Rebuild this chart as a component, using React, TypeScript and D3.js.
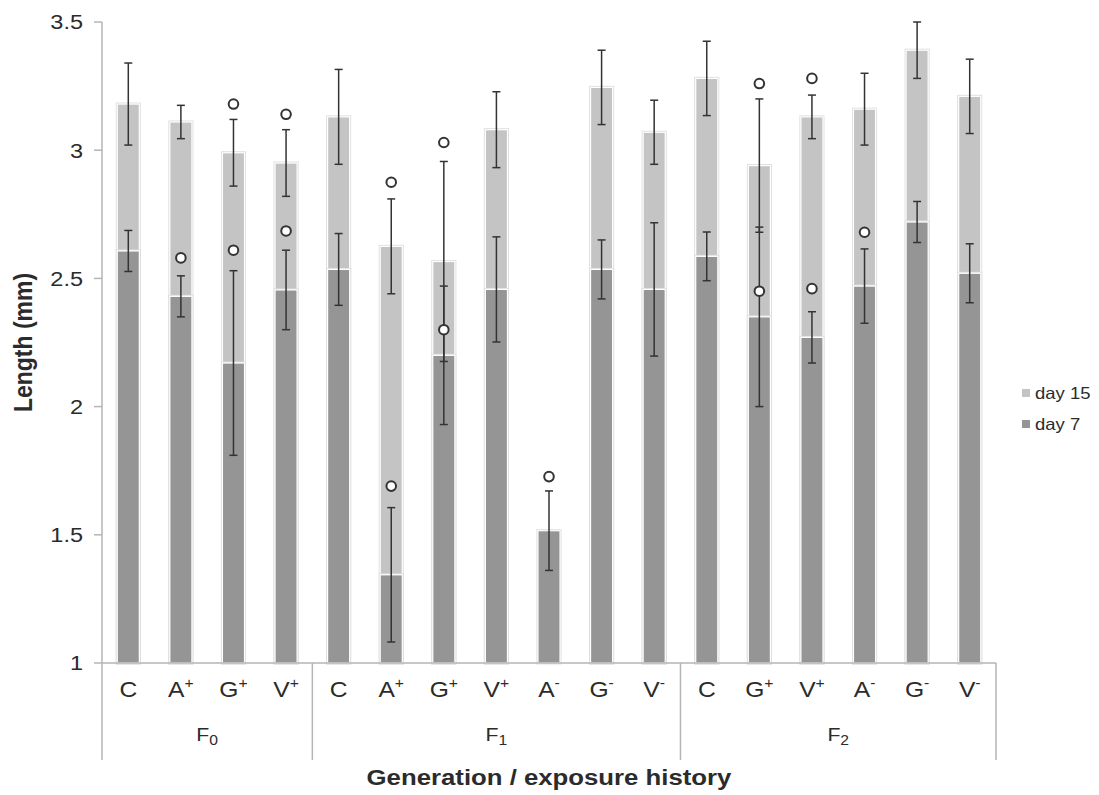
import * as d3 from 'd3';

// groups along the x axis
const generations = ['F0', 'F1', 'F2'];
const genSizes = [4, 7, 6];
// treatment label: base letter + superscript sign
const treatments = ['C', 'A+', 'G+', 'V+', 'C', 'A+', 'G+', 'V+', 'A-', 'G-', 'V-', 'C', 'G+', 'V+', 'A-', 'G-', 'V-'];

// mean length (mm) and error
const day15 = [3.18, 3.11, 2.99, 2.95, 3.13, 2.625, 2.566, 3.08, null, 3.245, 3.07, 3.28, 2.94, 3.13, 3.16, 3.39, 3.21];
const day15Err = [0.16, 0.065, 0.13, 0.13, 0.185, 0.185, 0.39, 0.148, null, 0.145, 0.125, 0.145, 0.26, 0.085, 0.14, 0.11, 0.145];
const day7 = [2.607, 2.43, 2.17, 2.455, 2.535, 1.344, 2.2, 2.457, 1.516, 2.535, 2.457, 2.586, 2.35, 2.27, 2.47, 2.72, 2.52];
const day7Err = [0.08, 0.08, 0.36, 0.155, 0.14, 0.262, 0.27, 0.205, 0.155, 0.115, 0.26, 0.095, 0.35, 0.1, 0.145, 0.08, 0.115];

// open circle markers
const mark15 = [null, null, 3.18, 3.14, null, 2.875, 3.03, null, null, null, null, null, 3.26, 3.28, null, null, null];
const mark7 = [null, 2.58, 2.61, 2.685, null, 1.69, 2.3, null, 1.727, null, null, null, 2.45, 2.46, 2.68, null, null];

const yTicks = [1, 1.5, 2, 2.5, 3, 3.5];
const seriesNames = ['day 15', 'day 7'];

const c15 = '#c3c4c3';
const c7 = '#959595';
const font = 'Liberation Sans, Arial, sans-serif';
const textCol = '#2b2b2b';
const sx = 1.12; // the source text is a bit wide

export default function App() {
  const width = 1099;
  const height = 795;
  const left = 102;
  const right = 996;

  const idx = treatments.map((_, i) => i);
  const x = d3.scaleBand<number>().domain(idx).range([left, right]).paddingInner(0.58).paddingOuter(0.29);
  const y = d3.scaleLinear().domain([1, 3.5]).range([663, 22]);
  const bw = x.bandwidth();
  const cx = (i: number) => (x(i) as number) + bw / 2;
  const step = x.step();

  const bar = (i: number, v: number | null, fill: string) =>
    v == null ? null : (
      <g key={i}>
        <rect x={x(i)} y={y(v)} width={bw} height={y(1) - y(v)} fill={fill} stroke="#dedede" strokeWidth={3} />
        <rect x={x(i)} y={y(v)} width={bw} height={y(1) - y(v)} fill={fill} stroke="#fff" strokeWidth={1.2} />
      </g>
    );

  const err = (i: number, v: number | null, e: number | null) => {
    if (v == null || e == null) return null;
    const xc = cx(i);
    return (
      <g key={i} stroke="#333" strokeWidth={1.5}>
        <line x1={xc} x2={xc} y1={y(v + e)} y2={y(v - e)} />
        <line x1={xc - 4} x2={xc + 4} y1={y(v + e)} y2={y(v + e)} />
        <line x1={xc - 4} x2={xc + 4} y1={y(v - e)} y2={y(v - e)} />
      </g>
    );
  };

  const mark = (i: number, v: number | null) =>
    v == null ? null : <circle key={i} cx={cx(i)} cy={y(v)} r={4.8} fill="#fff" stroke="#333" strokeWidth={2} />;

  // group boundaries
  let acc = 0;
  const genBounds = genSizes.map((n) => {
    const s = acc;
    acc += n;
    return { s, e: acc };
  });
  const bx = (k: number) => left + k * step;

  return (
    <svg width={width} height={height} style={{ position: 'absolute', left: 0, top: 0 }} fontFamily={font}>
      <rect width={width} height={height} fill="#fff" />

      {idx.map((i) => bar(i, day15[i], c15))}
      {idx.map((i) => bar(i, day7[i], c7))}
      {idx.map((i) => err(i, day15[i], day15Err[i]))}
      {idx.map((i) => err(i, day7[i], day7Err[i]))}
      {idx.map((i) => mark(i, mark15[i]))}
      {idx.map((i) => mark(i, mark7[i]))}

      {/* y axis */}
      <line x1={left} x2={left} y1={y(3.5)} y2={y(1)} stroke="#b5b5b5" strokeWidth={1.5} />
      {yTicks.map((t) => (
        <g key={t}>
          <line x1={left - 8} x2={left} y1={y(t)} y2={y(t)} stroke="#b5b5b5" strokeWidth={1.5} />
          <text transform={`translate(83,${y(t)}) scale(${sx},1)`} dy="0.35em" textAnchor="end" fontSize={21} fill={textCol}>
            {String(t)}
          </text>
        </g>
      ))}
      <text
        transform={`translate(32,${(y(1) + y(3.5)) / 2}) rotate(-90) scale(1,${sx})`}
        textAnchor="middle"
        fontSize={23}
        fontWeight="bold"
        fill={textCol}
      >
        Length (mm)
      </text>

      {/* x axis + group brackets */}
      <line x1={left} x2={right} y1={y(1)} y2={y(1)} stroke="#b5b5b5" strokeWidth={1.5} />
      {[0, ...genBounds.map((g) => g.e)].map((k) => (
        <line key={k} x1={bx(k)} x2={bx(k)} y1={y(1)} y2={760} stroke="#b5b5b5" strokeWidth={1.5} />
      ))}
      {idx.map((i) => {
        const t = treatments[i];
        return (
          <text key={i} transform={`translate(${cx(i)},697) scale(${sx},1)`} textAnchor="middle" fontSize={22} fill={textCol}>
            {t[0]}
            {t.length > 1 && (
              <tspan fontSize={14} dy={-9}>
                {t[1]}
              </tspan>
            )}
          </text>
        );
      })}
      {generations.map((g, k) => (
        <text
          key={g}
          transform={`translate(${(bx(genBounds[k].s) + bx(genBounds[k].e)) / 2},741) scale(${sx},1)`}
          textAnchor="middle"
          fontSize={19}
          fill={textCol}
        >
          {g[0]}
          <tspan fontSize={14} dy={4}>
            {g.slice(1)}
          </tspan>
        </text>
      ))}
      <text
        transform={`translate(${(left + right) / 2},785) scale(${sx},1)`}
        textAnchor="middle"
        fontSize={23}
        fontWeight="bold"
        fill={textCol}
      >
        Generation / exposure history
      </text>

      {/* legend */}
      {seriesNames.map((s, k) => (
        <g key={s} transform={`translate(1022,${393 + k * 31})`}>
          <rect x={0} y={-4} width={8} height={8} fill={k === 0 ? c15 : c7} />
          <text transform={`translate(13,0) scale(${sx},1)`} dy="0.35em" fontSize={16.5} fill={textCol}>
            {s}
          </text>
        </g>
      ))}
    </svg>
  );
}
